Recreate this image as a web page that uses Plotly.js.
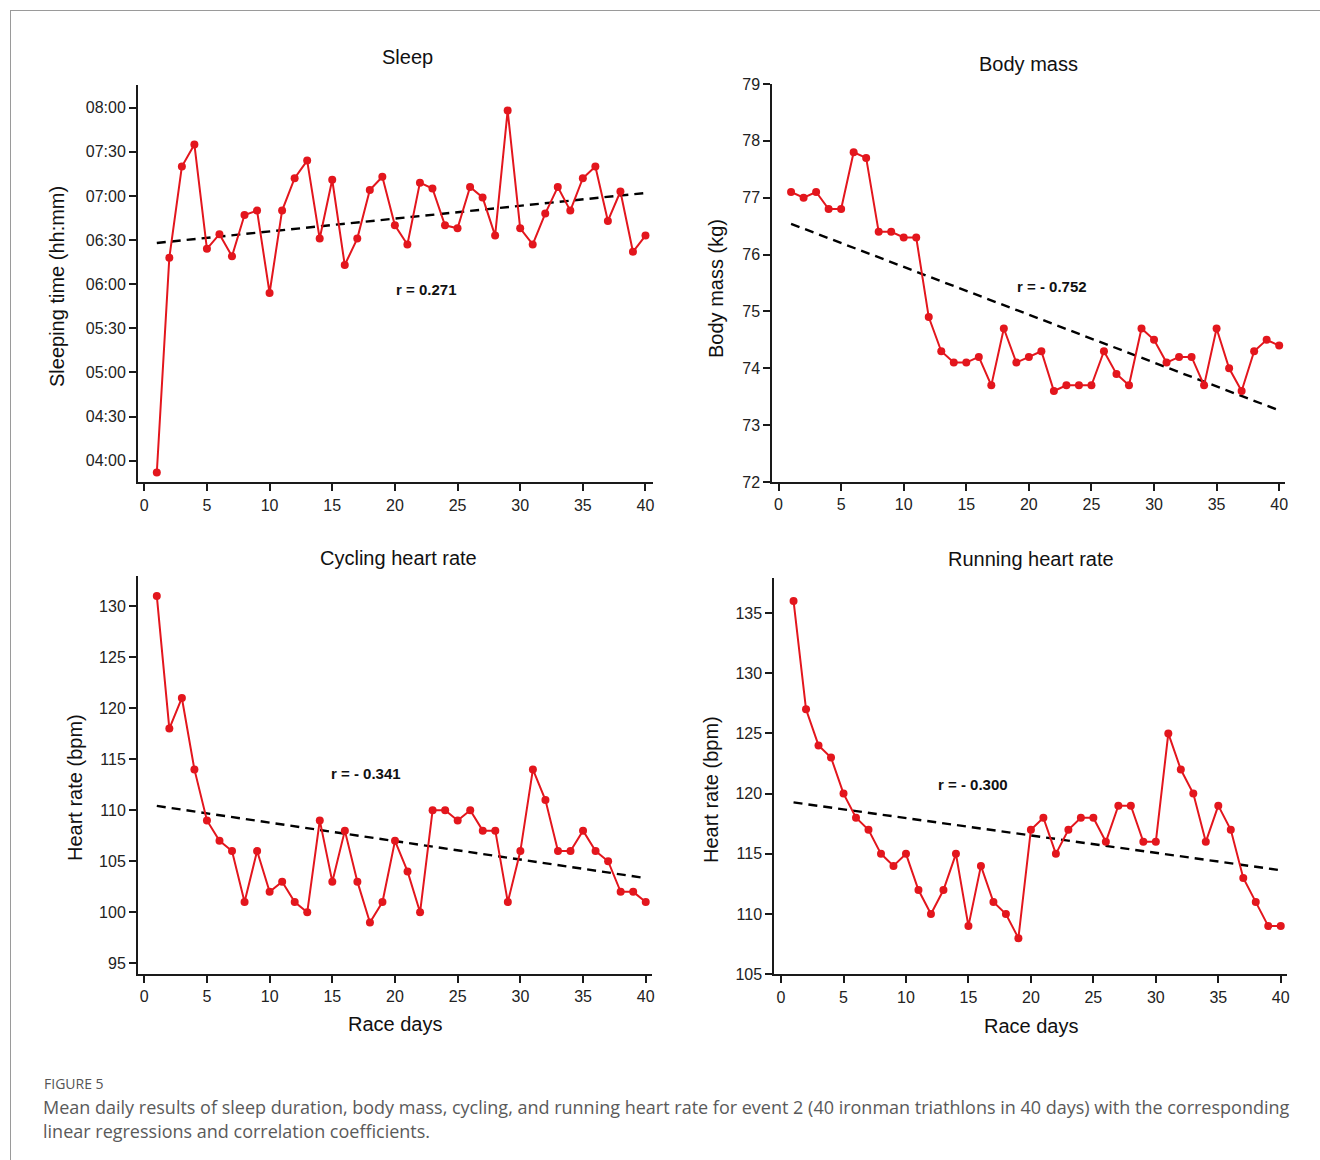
<!DOCTYPE html>
<html>
<head>
<meta charset="utf-8">
<script src="https://cdn.plot.ly/plotly-3.0.1.min.js"></script>
<style>
  html, body { margin: 0; padding: 0; background: #ffffff; }
  #chart { width: 1320px; height: 1160px; }
</style>
</head>
<body>
<div id="chart"></div>
<script>
// ---------------- DATA ----------------
const raceDays = [1,2,3,4,5,6,7,8,9,10,11,12,13,14,15,16,17,18,19,20,21,22,23,24,25,26,27,28,29,30,31,32,33,34,35,36,37,38,39,40];

const sleepTime = ["03:52","06:18","07:20","07:35","06:24","06:34","06:19","06:47","06:50","05:54",
                   "06:50","07:12","07:24","06:31","07:11","06:13","06:31","07:04","07:13","06:40",
                   "06:27","07:09","07:05","06:40","06:38","07:06","06:59","06:33","07:58","06:38",
                   "06:27","06:48","07:06","06:50","07:12","07:20","06:43","07:03","06:22","06:33"];
const sleepTrendDays = [1, 40];
const sleepTrend = ["06:28", "07:02"];
const sleepTickLabels = ["04:00","04:30","05:00","05:30","06:00","06:30","07:00","07:30","08:00"];

const bodyMass = [77.1,77.0,77.1,76.8,76.8,77.8,77.7,76.4,76.4,76.3,
                  76.3,74.9,74.3,74.1,74.1,74.2,73.7,74.7,74.1,74.2,
                  74.3,73.6,73.7,73.7,73.7,74.3,73.9,73.7,74.7,74.5,
                  74.1,74.2,74.2,73.7,74.7,74.0,73.6,74.3,74.5,74.4];
const bodyMassTrendDays = [1, 40];
const bodyMassTrend = [76.54, 73.26];

const cyclingHR = [131,118,121,114,109,107,106,101,106,102,
                   103,101,100,109,103,108,103,99,101,107,
                   104,100,110,110,109,110,108,108,101,106,
                   114,111,106,106,108,106,105,102,102,101];
const cyclingTrendDays = [1, 40];
const cyclingTrend = [110.42, 103.35];

const runningHR = [136,127,124,123,120,118,117,115,114,115,
                   112,110,112,115,109,114,111,110,108,117,
                   118,115,117,118,118,116,119,119,116,116,
                   125,122,120,116,119,117,113,111,109,109];
const runningTrendDays = [1, 40];
const runningTrend = [119.27, 113.64];

const xTickVals = [0,5,10,15,20,25,30,35,40];
const panelTitles = ["Sleep", "Body mass", "Cycling heart rate", "Running heart rate"];
const yTitles = ["Sleeping time (hh:mm)", "Body mass (kg)", "Heart rate (bpm)", "Heart rate (bpm)"];
const xTitle = "Race days";
const rLabels = ["r = 0.271", "r = - 0.752", "r = - 0.341", "r = - 0.300"];
const figLabel = "FIGURE 5";
const captionLines = [
  "Mean daily results of sleep duration, body mass, cycling, and running heart rate for event 2 (40 ironman triathlons in 40 days) with the corresponding",
  "linear regressions and correlation coefficients."
];

// ---------------- helpers ----------------
const W = 1320, H = 1160;
const px = v => v / W;
const py = v => 1 - v / H;
const toMin = s => { const [h, m] = s.split(":").map(Number); return h * 60 + m; };

const RED = "#e3161d";
const AXC = "#1a1a1a";
const FONT = "Liberation Sans, Arial, sans-serif";

const sleepMin = sleepTime.map(toMin);
const sleepTrendMin = sleepTrend.map(toMin);
const sleepTickVals = sleepTickLabels.map(toMin);

function dataTrace(x, y, xa, ya) {
  return { x: x, y: y, xaxis: xa, yaxis: ya, type: "scatter", mode: "lines+markers",
           line: { color: RED, width: 2 }, marker: { color: RED, size: 8 }, showlegend: false, hoverinfo: "x+y" };
}
function trendTrace(x, y, xa, ya) {
  return { x: x, y: y, xaxis: xa, yaxis: ya, type: "scatter", mode: "lines",
           line: { color: "#000000", width: 2.4, dash: "9px,6px" }, showlegend: false, hoverinfo: "skip" };
}

const traces = [
  trendTrace(sleepTrendDays, sleepTrendMin, "x", "y"),
  dataTrace(raceDays, sleepMin, "x", "y"),
  trendTrace(bodyMassTrendDays, bodyMassTrend, "x2", "y2"),
  dataTrace(raceDays, bodyMass, "x2", "y2"),
  trendTrace(cyclingTrendDays, cyclingTrend, "x3", "y3"),
  dataTrace(raceDays, cyclingHR, "x3", "y3"),
  trendTrace(runningTrendDays, runningTrend, "x4", "y4"),
  dataTrace(raceDays, runningHR, "x4", "y4")
];

function xAxis(domPx, range, anchor) {
  return { domain: [px(domPx[0]), px(domPx[1])], range: range, anchor: anchor,
           showline: true, linecolor: AXC, linewidth: 2, showgrid: false, zeroline: false,
           ticks: "outside", ticklen: 7, tickwidth: 2, tickcolor: AXC,
           tickvals: xTickVals, tickfont: { family: FONT, size: 16, color: "#222" } };
}
function yAxis(domPx, range, anchor, extra) {
  return Object.assign({ domain: [py(domPx[1]), py(domPx[0])], range: range, anchor: anchor,
           showline: true, linecolor: AXC, linewidth: 2, showgrid: false, zeroline: false,
           ticks: "outside", ticklen: 7, tickwidth: 2, tickcolor: AXC,
           tickfont: { family: FONT, size: 16, color: "#222" } }, extra || {});
}

const ann = [];
function addText(text, x, y, size, opts) {
  ann.push(Object.assign({ text: text, x: px(x), y: py(y), xref: "paper", yref: "paper",
    showarrow: false, xanchor: "center", yanchor: "middle",
    font: { family: FONT, size: size, color: "#111" } }, opts || {}));
}
// panel titles
addText(panelTitles[0], 407, 57, 20);
addText(panelTitles[1], 1028, 64, 20);
addText(panelTitles[2], 398, 558, 20);
addText(panelTitles[3], 1031, 559, 20);
// y titles
addText(yTitles[0], 57, 287, 20, { textangle: -90 });
addText(yTitles[1], 716, 289, 20, { textangle: -90 });
addText(yTitles[2], 75, 788, 20, { textangle: -90 });
addText(yTitles[3], 711, 790, 20, { textangle: -90 });
// x titles
addText(xTitle, 395, 1024, 20);
addText(xTitle, 1031, 1026, 20);
// correlation labels
addText("<b>" + rLabels[0] + "</b>", 426, 289, 15);
addText("<b>" + rLabels[1] + "</b>", 1052, 286, 15);
addText("<b>" + rLabels[2] + "</b>", 366, 774, 15);
addText("<b>" + rLabels[3] + "</b>", 973, 784, 15);
// caption
const CAP = "Open Sans, sans-serif";
addText(figLabel, 42, 1083, 14, { xanchor: "left", font: { family: CAP, size: 14, color: "#555" } });
addText(captionLines[0], 41, 1107, 18, { xanchor: "left", font: { family: CAP, size: 18, color: "#5a5a5a" } });
addText(captionLines[1], 41, 1131, 18, { xanchor: "left", font: { family: CAP, size: 18, color: "#5a5a5a" } });

const layout = {
  width: W, height: H,
  margin: { l: 0, r: 0, t: 0, b: 0 },
  paper_bgcolor: "#ffffff", plot_bgcolor: "#ffffff",
  showlegend: false,
  xaxis:  xAxis([138, 653], [-0.5, 40.6], "y"),
  yaxis:  yAxis([85, 482.3], [225.3, 495.4], "x", { tickvals: sleepTickVals, ticktext: sleepTickLabels }),
  xaxis2: xAxis([772.3, 1284.8], [-0.5, 40.45], "y2"),
  yaxis2: yAxis([84, 482], [72, 79], "x2", { tickvals: [72,73,74,75,76,77,78,79] }),
  xaxis3: xAxis([138, 652], [-0.5, 40.5], "y3"),
  yaxis3: yAxis([575.5, 973.5], [94, 133], "x3", { tickvals: [95,100,105,110,115,120,125,130] }),
  xaxis4: xAxis([774.3, 1287], [-0.54, 40.5], "y4"),
  yaxis4: yAxis([578, 974.3], [105, 137.9], "x4", { tickvals: [105,110,115,120,125,130,135] }),
  annotations: ann,
  shapes: [
    { type: "line", xref: "paper", yref: "paper", x0: px(10), x1: 1, y0: py(10.5), y1: py(10.5), line: { color: "#9a9a9a", width: 1 } },
    { type: "line", xref: "paper", yref: "paper", x0: px(10.5), x1: px(10.5), y0: py(10), y1: 0, line: { color: "#9a9a9a", width: 1 } }
  ]
};

Plotly.newPlot("chart", traces, layout, { displayModeBar: false, staticPlot: true });
</script>
</body>
</html>
